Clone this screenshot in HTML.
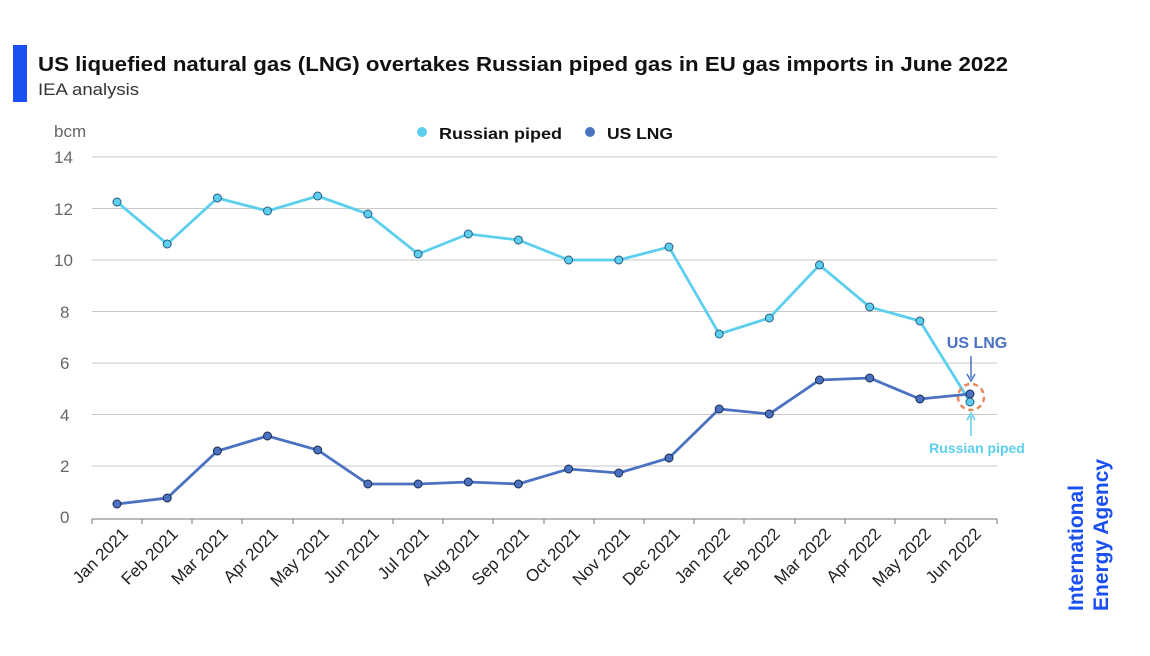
<!DOCTYPE html>
<html><head><meta charset="utf-8"><style>
body{margin:0;background:#fff;}
svg{display:block;font-family:"Liberation Sans",sans-serif;}
</style></head><body>
<svg width="1150" height="656" viewBox="0 0 1150 656" xmlns="http://www.w3.org/2000/svg">
<rect x="13" y="45" width="14" height="57" fill="#1a4ff2"/>
<text x="38" y="71" font-size="20" font-weight="bold" fill="#111" textLength="970" lengthAdjust="spacingAndGlyphs">US liquefied natural gas (LNG) overtakes Russian piped gas in EU gas imports in June 2022</text>
<text x="38" y="95" font-size="17" fill="#333" textLength="101" lengthAdjust="spacingAndGlyphs">IEA analysis</text>
<text x="54" y="137" font-size="17" fill="#666">bcm</text>
<g font-size="17" fill="#666">
<text x="54" y="163">14</text><text x="54" y="215">12</text><text x="54" y="266">10</text>
<text x="60" y="318">8</text><text x="60" y="369">6</text><text x="60" y="421">4</text>
<text x="60" y="472">2</text><text x="60" y="523">0</text>
</g>
<g stroke="#c8c8c8" stroke-width="1">
<line x1="92" y1="157" x2="997" y2="157"/><line x1="92" y1="208.5" x2="997" y2="208.5"/>
<line x1="92" y1="260" x2="997" y2="260"/><line x1="92" y1="311.5" x2="997" y2="311.5"/>
<line x1="92" y1="363" x2="997" y2="363"/><line x1="92" y1="414.5" x2="997" y2="414.5"/>
<line x1="92" y1="466" x2="997" y2="466"/>
</g>
<line x1="92" y1="519" x2="997" y2="519" stroke="#777" stroke-width="1"/>
<g stroke="#777">
<line x1="92" y1="519" x2="92" y2="524"/><line x1="142" y1="519" x2="142" y2="524"/><line x1="192" y1="519" x2="192" y2="524"/><line x1="242" y1="519" x2="242" y2="524"/><line x1="293" y1="519" x2="293" y2="524"/><line x1="343" y1="519" x2="343" y2="524"/><line x1="393" y1="519" x2="393" y2="524"/><line x1="443" y1="519" x2="443" y2="524"/><line x1="493" y1="519" x2="493" y2="524"/><line x1="544" y1="519" x2="544" y2="524"/><line x1="594" y1="519" x2="594" y2="524"/><line x1="644" y1="519" x2="644" y2="524"/><line x1="694" y1="519" x2="694" y2="524"/><line x1="744" y1="519" x2="744" y2="524"/><line x1="795" y1="519" x2="795" y2="524"/><line x1="845" y1="519" x2="845" y2="524"/><line x1="895" y1="519" x2="895" y2="524"/><line x1="945" y1="519" x2="945" y2="524"/><line x1="997" y1="519" x2="997" y2="524"/>
</g>
<g font-size="17" fill="#222" text-anchor="end">
<text transform="translate(129,535) rotate(-45)">Jan 2021</text>
<text transform="translate(179,535) rotate(-45)">Feb 2021</text>
<text transform="translate(229,535) rotate(-45)">Mar 2021</text>
<text transform="translate(279,535) rotate(-45)">Apr 2021</text>
<text transform="translate(330,535) rotate(-45)">May 2021</text>
<text transform="translate(380,535) rotate(-45)">Jun 2021</text>
<text transform="translate(430,535) rotate(-45)">Jul 2021</text>
<text transform="translate(480,535) rotate(-45)">Aug 2021</text>
<text transform="translate(530,535) rotate(-45)">Sep 2021</text>
<text transform="translate(581,535) rotate(-45)">Oct 2021</text>
<text transform="translate(631,535) rotate(-45)">Nov 2021</text>
<text transform="translate(681,535) rotate(-45)">Dec 2021</text>
<text transform="translate(731,535) rotate(-45)">Jan 2022</text>
<text transform="translate(781,535) rotate(-45)">Feb 2022</text>
<text transform="translate(832,535) rotate(-45)">Mar 2022</text>
<text transform="translate(882,535) rotate(-45)">Apr 2022</text>
<text transform="translate(932,535) rotate(-45)">May 2022</text>
<text transform="translate(982,535) rotate(-45)">Jun 2022</text>
</g>
<circle cx="422" cy="132" r="5" fill="#5ccfee"/>
<text x="439" y="139" font-size="16" font-weight="bold" fill="#111" textLength="123" lengthAdjust="spacingAndGlyphs">Russian piped</text>
<circle cx="590" cy="132" r="5" fill="#4a72c0"/>
<text x="607" y="139" font-size="16" font-weight="bold" fill="#111" textLength="66" lengthAdjust="spacingAndGlyphs">US LNG</text>
<polyline fill="none" stroke="#5ccfee" stroke-width="2.8" points="117,202 167.2,244 217.4,198 267.5,211 317.7,196 367.9,214 418.1,254 468.3,234 518.4,240 568.6,260 618.8,260 669,247 719.2,334 769.3,318 819.5,265 869.7,307 919.9,321 970,402"/>
<polyline fill="none" stroke="#4a72c0" stroke-width="2.8" points="117,504 167.2,498 217.4,451 267.5,436 317.7,450 367.9,484 418.1,484 468.3,482 518.4,484 568.6,469 618.8,473 669,458 719.2,409 769.3,414 819.5,380 869.7,378 919.9,399 970,394"/>
<g fill="#5ccfee" stroke="#2a5a80" stroke-width="1">
<circle cx="117" cy="202" r="4"/><circle cx="167.2" cy="244" r="4"/><circle cx="217.4" cy="198" r="4"/><circle cx="267.5" cy="211" r="4"/><circle cx="317.7" cy="196" r="4"/><circle cx="367.9" cy="214" r="4"/><circle cx="418.1" cy="254" r="4"/><circle cx="468.3" cy="234" r="4"/><circle cx="518.4" cy="240" r="4"/><circle cx="568.6" cy="260" r="4"/><circle cx="618.8" cy="260" r="4"/><circle cx="669" cy="247" r="4"/><circle cx="719.2" cy="334" r="4"/><circle cx="769.3" cy="318" r="4"/><circle cx="819.5" cy="265" r="4"/><circle cx="869.7" cy="307" r="4"/><circle cx="919.9" cy="321" r="4"/><circle cx="970" cy="402" r="4"/>
</g>
<g fill="#4a72c0" stroke="#1a2a50" stroke-width="1">
<circle cx="117" cy="504" r="4"/><circle cx="167.2" cy="498" r="4"/><circle cx="217.4" cy="451" r="4"/><circle cx="267.5" cy="436" r="4"/><circle cx="317.7" cy="450" r="4"/><circle cx="367.9" cy="484" r="4"/><circle cx="418.1" cy="484" r="4"/><circle cx="468.3" cy="482" r="4"/><circle cx="518.4" cy="484" r="4"/><circle cx="568.6" cy="469" r="4"/><circle cx="618.8" cy="473" r="4"/><circle cx="669" cy="458" r="4"/><circle cx="719.2" cy="409" r="4"/><circle cx="769.3" cy="414" r="4"/><circle cx="819.5" cy="380" r="4"/><circle cx="869.7" cy="378" r="4"/><circle cx="919.9" cy="399" r="4"/><circle cx="970" cy="394" r="4"/>
</g>
<circle cx="971" cy="397" r="13" fill="none" stroke="#e8875a" stroke-width="2.5" stroke-dasharray="5,4"/>
<text x="977" y="348" font-size="16" font-weight="bold" fill="#4a72c0" text-anchor="middle">US LNG</text>
<line x1="971" y1="356" x2="971" y2="378" stroke="#4a72c0" stroke-width="1.5"/>
<path d="M967,374 L971,381 L975,374" fill="none" stroke="#4a72c0" stroke-width="1.5"/>
<line x1="971" y1="416" x2="971" y2="436" stroke="#5ccfee" stroke-width="1.5"/>
<path d="M967,420 L971,413 L975,420" fill="none" stroke="#5ccfee" stroke-width="1.5"/>
<text x="977" y="453" font-size="14" font-weight="bold" fill="#5ccfee" text-anchor="middle">Russian piped</text>
<g font-size="21" font-weight="bold" fill="#1a4ff2">
<text transform="translate(1083,611) rotate(-90)">International</text>
<text transform="translate(1108,611) rotate(-90)">Energy Agency</text>
</g>
</svg>
</body></html>
